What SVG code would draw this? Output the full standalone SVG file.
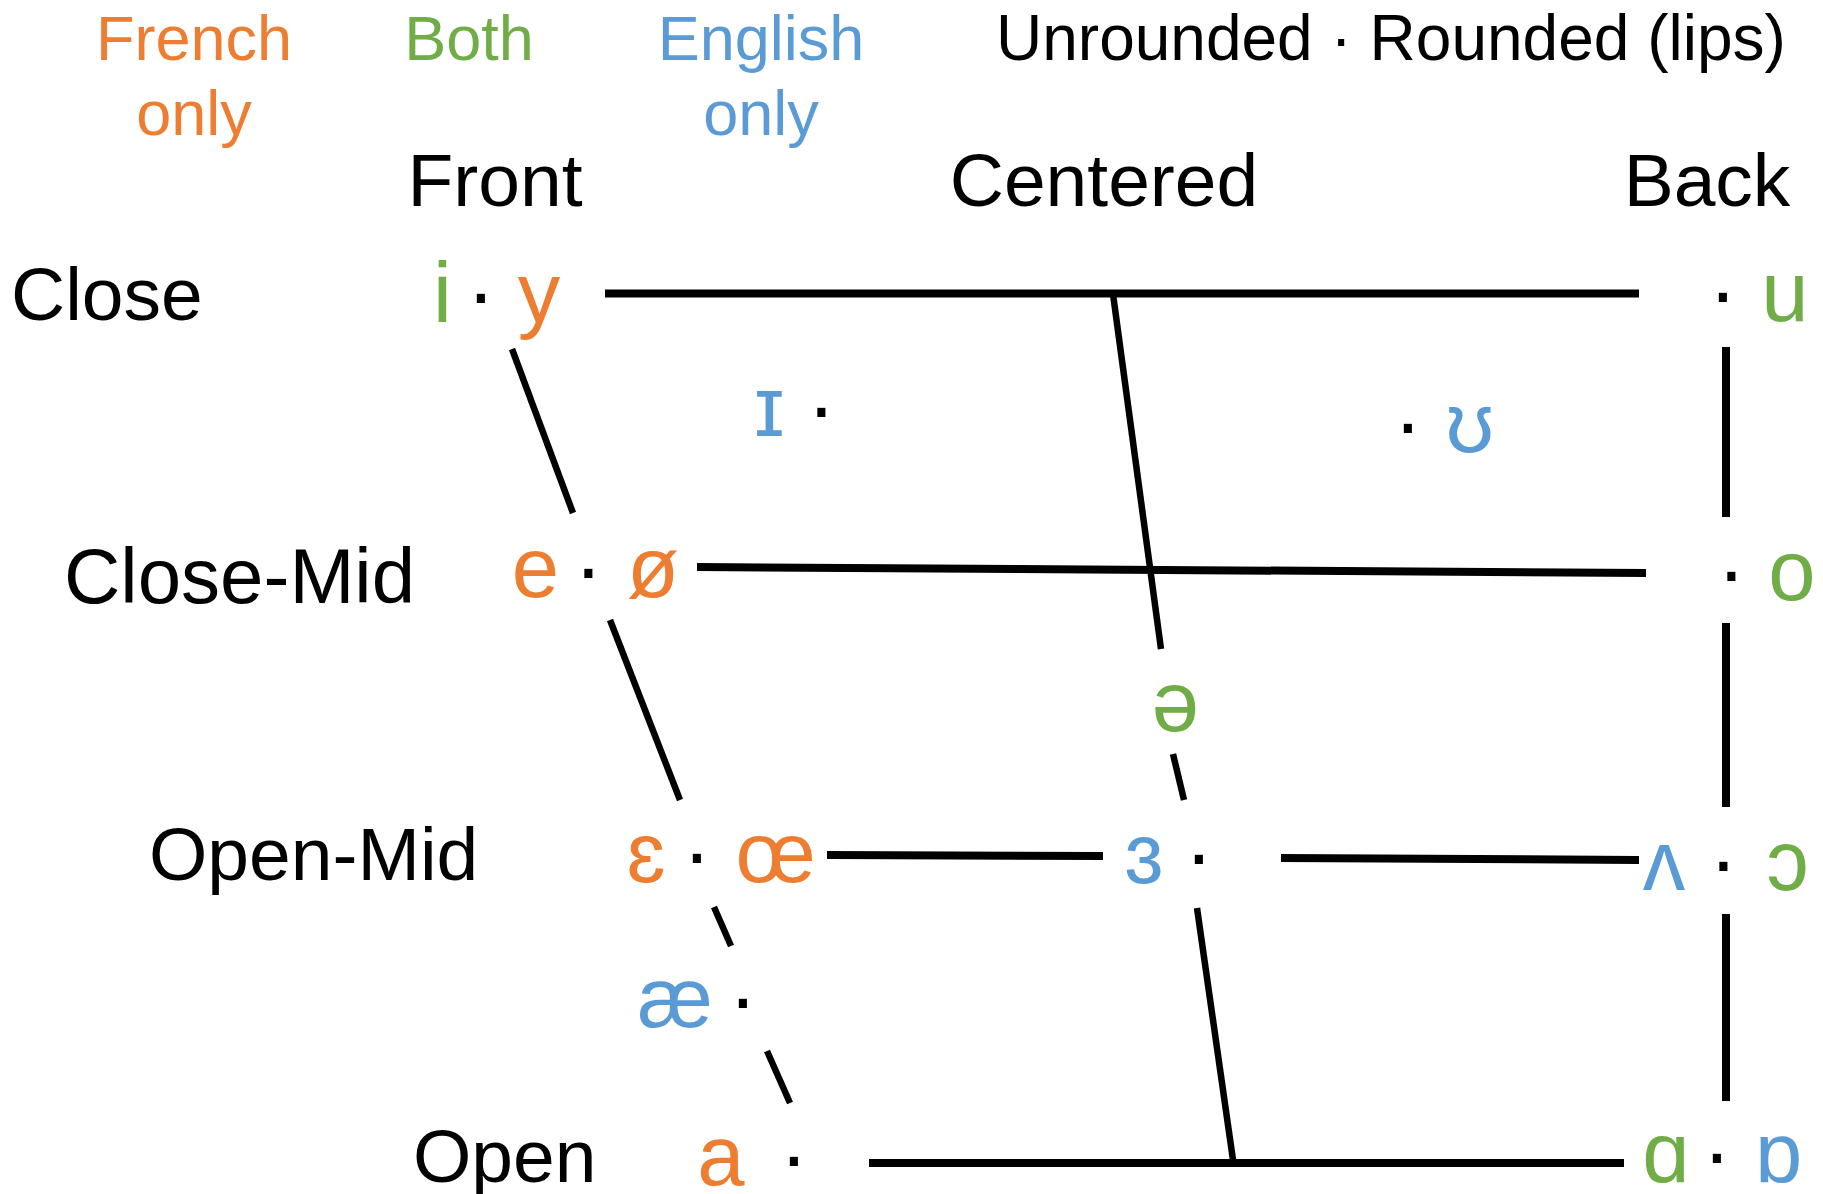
<svg xmlns="http://www.w3.org/2000/svg" width="1823" height="1194" viewBox="0 0 1823 1194">
<style>
text{font-family:"Liberation Sans",Arial,"DejaVu Sans",sans-serif}
.hd{font-size:63px}
.lb{font-size:75px;fill:#000}
.v{font-size:85px;text-anchor:middle}
.d{font-size:85px;text-anchor:middle;fill:#000}
.fr{fill:#ED7D31}.bo{fill:#70AD47}.en{fill:#5B9BD5}
.h{stroke:#000;stroke-width:8;fill:none}
.g{stroke:#000;stroke-width:6.5;fill:none}
</style>
<rect width="1823" height="1194" fill="#fff"/>
<g id="legend">
<text class="hd fr" x="194" y="60" text-anchor="middle">French</text>
<text class="hd fr" x="194" y="135" text-anchor="middle">only</text>
<text class="hd bo" x="469" y="60" text-anchor="middle">Both</text>
<text class="hd en" x="761" y="60" text-anchor="middle">English</text>
<text class="hd en" x="761" y="135" text-anchor="middle">only</text>
<text class="hd" x="996" y="60" fill="#000" style="font-size:64px">Unrounded · Rounded (lips)</text>
</g>
<g id="axis-labels">
<text class="lb" x="495" y="206" text-anchor="middle">Front</text>
<text class="lb" x="1104" y="206" text-anchor="middle">Centered</text>
<text class="lb" x="1707" y="206" text-anchor="middle">Back</text>
<text class="lb" x="11" y="320">Close</text>
<text class="lb" x="64" y="603" style="font-size:78px">Close-Mid</text>
<text class="lb" x="149" y="880">Open-Mid</text>
<text class="lb" x="413" y="1182">Open</text>
</g>
<g id="connectors">
<line class="h" x1="605" y1="293.5" x2="1639" y2="293.5"/>
<line class="h" x1="697" y1="567" x2="1646" y2="573"/>
<line class="h" x1="827" y1="855" x2="1103" y2="856"/>
<line class="h" x1="1281" y1="858" x2="1639" y2="860"/>
<line class="h" x1="869" y1="1163" x2="1624" y2="1163"/>
<line class="h" x1="1726" y1="347" x2="1726" y2="517"/>
<line class="h" x1="1726" y1="623" x2="1726" y2="807"/>
<line class="h" x1="1726" y1="914" x2="1726" y2="1101"/>
<line class="g" x1="512" y1="349" x2="573" y2="513"/>
<line class="g" x1="610" y1="620" x2="680" y2="800"/>
<line class="g" x1="714" y1="907" x2="731" y2="946"/>
<line class="g" x1="767" y1="1051" x2="790" y2="1103"/>
<line class="g" x1="1113" y1="294" x2="1161" y2="649"/>
<line class="g" x1="1173" y1="754" x2="1184" y2="800"/>
<line class="g" x1="1197" y1="908" x2="1233" y2="1160"/>
</g>
<g id="v-i-y"><text class="v bo" x="442.5" y="322">i</text><text class="d" x="481" y="322">·</text><text class="v fr" x="539" y="322">y</text></g>
<g id="v-u"><text class="d" x="1723" y="321">·</text><text class="v bo" x="1785" y="321">u</text></g>
<g id="v-I"><text class="v en" x="769.5" y="436">ɪ</text><text class="d" x="821.5" y="436">·</text></g>
<g id="v-U"><text class="d" x="1408" y="452">·</text><text class="v en" x="1470" y="452">ʊ</text></g>
<g id="v-e-oe"><text class="v fr" x="535.5" y="597">e</text><text class="d" x="588.5" y="597">·</text><text class="v fr" x="653" y="597">ø</text></g>
<g id="v-o"><text class="d" x="1731.5" y="600">·</text><text class="v bo" x="1792" y="600">o</text></g>
<g id="v-schwa"><text class="v bo" x="1175.5" y="731">ə</text></g>
<g id="v-eps-oe"><text class="v fr" x="646" y="882">ɛ</text><text class="d" x="697" y="882">·</text><text class="v fr" x="775.5" y="882">œ</text></g>
<g id="v-3"><text class="v en" x="1144" y="883">ɜ</text><text class="d" x="1199" y="883">·</text></g>
<g id="v-wedge-open-o"><text class="v en" x="1664" y="890">ʌ</text><text class="d" x="1723.5" y="890">·</text><text class="v bo" x="1787.5" y="890">ɔ</text></g>
<g id="v-ae"><text class="v en" x="675" y="1027">æ</text><text class="d" x="743" y="1027">·</text></g>
<g id="v-a"><text class="v fr" x="721" y="1185">a</text><text class="d" x="794" y="1185">·</text></g>
<g id="v-alpha-turned"><text class="v bo" x="1666" y="1182">ɑ</text><text class="d" x="1717" y="1182">·</text><text class="v en" x="1779" y="1182">ɒ</text></g>
</svg>
